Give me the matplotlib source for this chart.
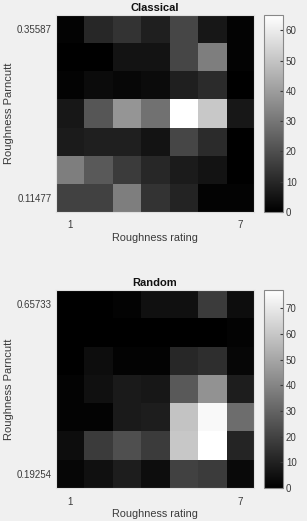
import matplotlib.pyplot as plt
import numpy as np

plt.rcParams['font.family'] = ['Liberation Sans', 'DejaVu Sans']

# rows listed top (high Parncutt) to bottom (low Parncutt), columns rating 1..7
classical = [
    [1, 10, 13, 8, 18, 6, 1],
    [0, 0, 5, 5, 18, 32, 1],
    [1, 3, 2, 3, 8, 11, 0],
    [6, 22, 38, 29, 65, 51, 6],
    [7, 8, 8, 5, 18, 11, 0],
    [32, 23, 15, 10, 7, 5, 0],
    [17, 17, 32, 13, 9, 1, 1],
]
random_ = [
    [0, 0, 1, 5, 5, 18, 4],
    [0, 0, 0, 0, 0, 0, 1],
    [0, 4, 1, 1, 12, 14, 2],
    [1, 5, 8, 7, 27, 44, 9],
    [1, 1, 8, 9, 59, 75, 33],
    [4, 18, 24, 18, 60, 77, 11],
    [2, 5, 9, 4, 20, 18, 3],
]
titles = ['Classical', 'Random']
ylims = [('0.35587', '0.11477'), ('0.65733', '0.19254')]
cb_ticks = [np.arange(0, 61, 10), np.arange(0, 71, 10)]

txt = '#3a3a3a'
fig = plt.figure(figsize=(3.07, 5.21), dpi=100, facecolor='#f0f0f0')

boxes = [(0.593, 0.378), (0.063, 0.380)]
for data, title, yl, ct, (b, h) in zip([classical, random_], titles, ylims, cb_ticks, boxes):
    ax = fig.add_axes([0.182, b, 0.645, h])
    cax = fig.add_axes([0.860, b, 0.062, h])
    arr = np.array(data)
    im = ax.imshow(arr, cmap='gray', aspect='auto', interpolation='nearest',
                   extent=[0.5, 7.5, 0.5, 7.5], vmin=0, vmax=arr.max())
    ax.set_xticks([1, 7])
    ax.set_xticklabels(['1', '7'])
    ax.set_yticks([7, 1])
    ax.set_yticklabels(yl)
    ax.tick_params(length=0, labelsize=7, colors=txt)
    ax.tick_params(axis='x', pad=6)
    ax.tick_params(axis='y', pad=3)
    ax.set_xlabel('Roughness rating', fontsize=7.8, color=txt, labelpad=2)
    ax.set_ylabel('Roughness Parncutt', fontsize=8, color=txt, labelpad=2)
    ax.set_title(title, fontsize=8, fontweight='bold', color='#111111', pad=3)
    for s in ax.spines.values():
        s.set_color('#e0e0e0')
    cb = fig.colorbar(im, cax=cax, ticks=ct)
    cb.ax.tick_params(labelsize=7, colors=txt, direction='in', length=2, pad=2)
    cb.outline.set_edgecolor('#888888')
    cb.outline.set_linewidth(0.8)

fig.savefig('out.png', dpi=100, facecolor=fig.get_facecolor())
